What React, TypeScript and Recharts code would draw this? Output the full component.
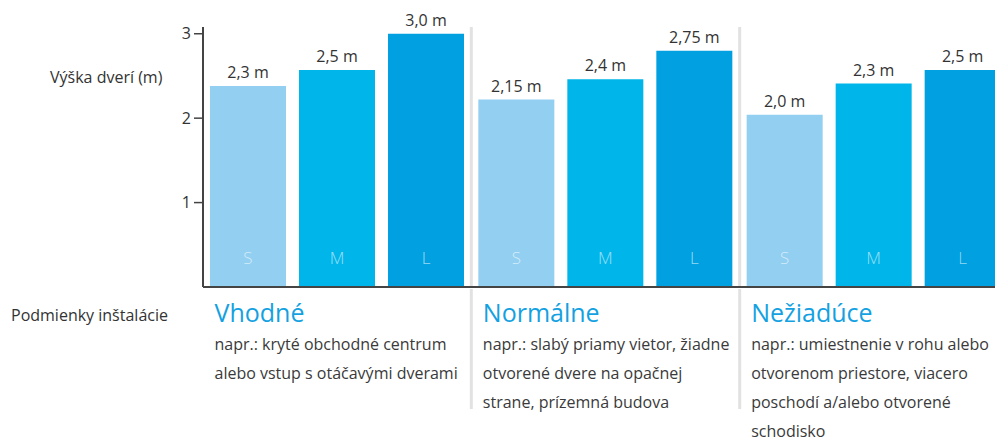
import React from "react"
import { BarChart, Bar, XAxis, YAxis, LabelList } from "recharts"

// door height per installation condition (S / M / L curtain sizes)
const groups = ["Vhodné", "Normálne", "Nežiadúce"]
const heightS = [2.38, 2.22, 2.04]
const heightM = [2.57, 2.46, 2.41]
const heightL = [3.0, 2.8, 2.57]
const labelS = ["2,3 m", "2,15 m", "2,0 m"]
const labelM = ["2,5 m", "2,4 m", "2,3 m"]
const labelL = ["3,0 m", "2,75 m", "2,5 m"]
const notes = [
  ["napr.: kryté obchodné centrum", "alebo vstup s otáčavými dverami"],
  ["napr.: slabý priamy vietor, žiadne", "otvorené dvere na opačnej", "strane, prízemná budova"],
  ["napr.: umiestnenie v rohu alebo", "otvorenom priestore, viacero", "poschodí a/alebo otvorené", "schodisko"],
]
const yTicks = [1, 2, 3]

const data = groups.map((group, i) => ({
  group,
  S: heightS[i],
  M: heightM[i],
  L: heightL[i],
  sLabel: labelS[i],
  mLabel: labelM[i],
  lLabel: labelL[i],
}))

const CHART_W = 1008
const CHART_H = 441
const MARGIN = { top: 27, right: 0, left: 143, bottom: 0 }
const Y_WIDTH = 60
const BAND = (CHART_W - MARGIN.left - Y_WIDTH - MARGIN.right) / groups.length

function GroupTick(props: any) {
  const { x, index, payload } = props
  const left = x - BAND / 2
  const tx = left + 11.5
  return (
    <g>
      {index > 0 && (
        <>
          <line x1={left} x2={left} y1={27} y2={286} stroke="#e2e2e2" strokeWidth={3} />
          <line x1={left} x2={left} y1={289} y2={409} stroke="#e2e2e2" strokeWidth={3} />
        </>
      )}
      <text x={tx} y={322} fill="#14a1e1" fontSize={25}>
        {payload.value}
      </text>
      {notes[index].map((line, k) => (
        <text key={k} x={tx} y={350 + k * 29} fill="#3a3a3a" fontSize={16}>
          {line}
        </text>
      ))}
    </g>
  )
}

const valueLabel = { fill: "#333", fontSize: 16 }
const sizeLabel = { fill: "rgba(255,255,255,0.6)", fontSize: 17, fontWeight: 300 }

export default function App() {
  return (
    <div
      style={{
        position: "absolute",
        left: 0,
        top: 0,
        width: 995,
        height: 441,
        overflow: "hidden",
        background: "#fff",
        fontFamily: "'Open Sans', sans-serif",
        color: "#333",
      }}
    >
      <div style={{ position: "absolute", left: 50, top: 67, fontSize: 16, lineHeight: "20px" }}>Výška dverí (m)</div>
      <div style={{ position: "absolute", left: 11, top: 304.5, fontSize: 16, lineHeight: "20px" }}>
        Podmienky inštalácie
      </div>
      <BarChart width={CHART_W} height={CHART_H} data={data} margin={MARGIN} barGap={13}>
        <XAxis
          dataKey="group"
          height={154}
          interval={0}
          tickLine={false}
          axisLine={{ stroke: "#444", strokeWidth: 2 }}
          tick={(p: any) => <GroupTick {...p} />}
        />
        <YAxis
          type="number"
          domain={[0, 3.08]}
          ticks={yTicks}
          width={Y_WIDTH}
          axisLine={{ stroke: "#444", strokeWidth: 2 }}
          tickLine={{ stroke: "#444", strokeWidth: 1.5 }}
          tickSize={9}
          tickMargin={3}
          tick={{ fill: "#333", fontSize: 16 }}
        />
        <Bar dataKey="S" fill="#92cff1" barSize={76} isAnimationActive={false}>
          <LabelList dataKey="sLabel" position="top" offset={8} {...valueLabel} />
          <LabelList dataKey="S" position="insideBottom" offset={23} formatter={() => "S"} {...sizeLabel} />
        </Bar>
        <Bar dataKey="M" fill="#00b5e9" barSize={76} isAnimationActive={false}>
          <LabelList dataKey="mLabel" position="top" offset={8} {...valueLabel} />
          <LabelList dataKey="M" position="insideBottom" offset={23} formatter={() => "M"} {...sizeLabel} />
        </Bar>
        <Bar dataKey="L" fill="#00a0e1" barSize={76} isAnimationActive={false}>
          <LabelList dataKey="lLabel" position="top" offset={8} {...valueLabel} />
          <LabelList dataKey="L" position="insideBottom" offset={23} formatter={() => "L"} {...sizeLabel} />
        </Bar>
      </BarChart>
    </div>
  )
}
